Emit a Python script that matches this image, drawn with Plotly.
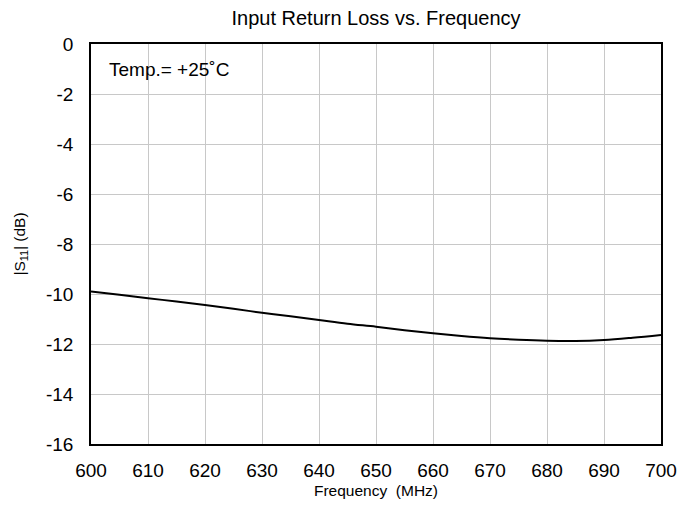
import plotly.graph_objects as go

# Input return loss |S11| at +25C
freq_mhz = [600, 605, 610, 615, 620, 625, 630, 635, 640, 645, 650, 655, 660, 665,
            670, 675, 680, 685, 690, 695, 700]
s11_db = [-9.90, -10.03, -10.17, -10.30, -10.44, -10.59, -10.75, -10.89, -11.04, -11.19,
          -11.31, -11.45, -11.57, -11.68, -11.77, -11.83, -11.87, -11.88, -11.84, -11.75, -11.64]

x_ticks = list(range(600, 701, 10))
y_ticks = list(range(-16, 1, 2))
y_labels = [str(v) for v in y_ticks]  # plain hyphen, as in the reference

fig = go.Figure()
fig.add_trace(go.Scatter(x=freq_mhz, y=s11_db, mode='lines', line=dict(color='black', width=2, shape='spline'),
                         showlegend=False))

fig.add_annotation(text='Temp.= +25˚C', xref='paper', yref='paper', x=0.028, y=0.968,
                   xanchor='left', yanchor='top', showarrow=False,
                   font=dict(size=19, color='black'))

fig.update_layout(
    width=678, height=506,
    margin=dict(l=91, r=17, t=44, b=62, autoexpand=False),
    paper_bgcolor='white', plot_bgcolor='white',
    font=dict(family='Liberation Sans, Arial, sans-serif', color='black'),
    title=dict(text='Input Return Loss vs. Frequency', x=0.5, xref='paper', xanchor='center',
               y=0.978, yanchor='top', font=dict(size=20)),
)
fig.update_xaxes(range=[600, 700], tickvals=x_ticks, tickfont=dict(size=19), automargin=False,
                 showgrid=True, gridcolor='#c8c8c8', gridwidth=1, ticklabelstandoff=8,
                 showline=True, linecolor='black', linewidth=1.5, mirror=True,
                 ticks='', title=dict(text='Frequency  (MHz)', font=dict(size=15.5), standoff=6))
fig.update_yaxes(range=[-16, 0], tickvals=y_ticks, ticktext=y_labels, tickfont=dict(size=19), automargin=False,
                 showgrid=True, gridcolor='#c8c8c8', gridwidth=1, zeroline=False, ticklabelstandoff=12,
                 showline=True, linecolor='black', linewidth=1.5, mirror=True,
                 ticks='', title=dict(text='|S<sub>11</sub>| (dB)', font=dict(size=15.5), standoff=17))

# drop the default 8px page margin so the figure fills the window exactly
fig.write_html("out.html", config={'displayModeBar': False},
               post_script="document.body.style.margin='0';")
